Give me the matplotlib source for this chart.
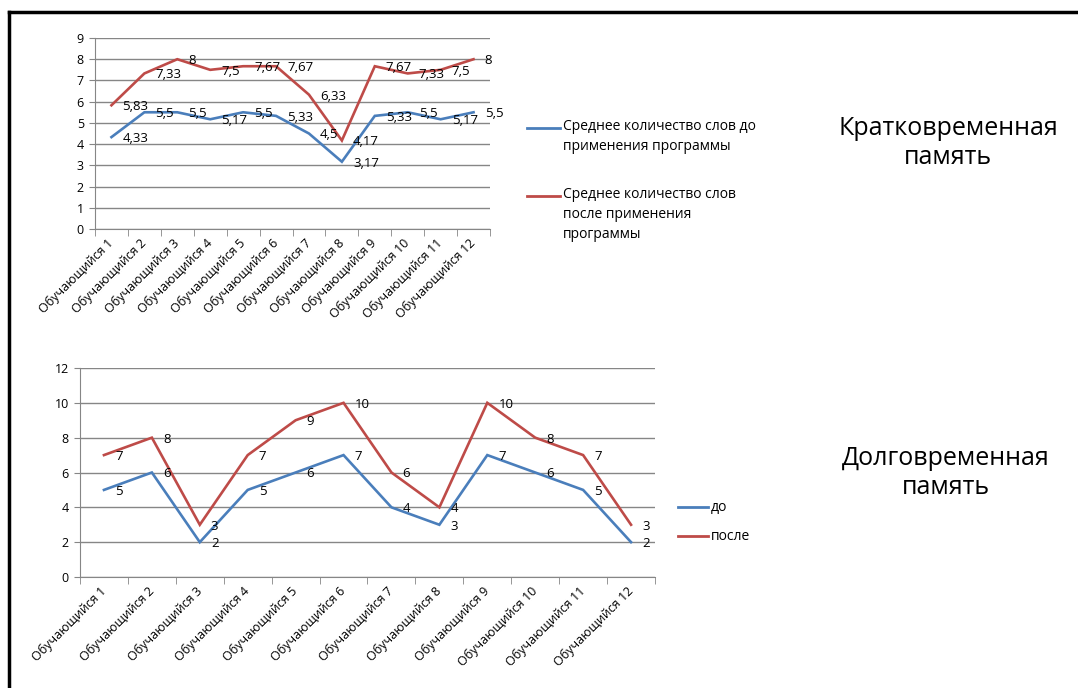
import matplotlib.pyplot as plt
from matplotlib.lines import Line2D

plt.rcParams['font.family'] = ['Open Sans', 'DejaVu Sans']

students = ['Обучающийся 1', 'Обучающийся 2', 'Обучающийся 3', 'Обучающийся 4',
            'Обучающийся 5', 'Обучающийся 6', 'Обучающийся 7', 'Обучающийся 8',
            'Обучающийся 9', 'Обучающийся 10', 'Обучающийся 11', 'Обучающийся 12']

# кратковременная память
short_before = [4.33, 5.5, 5.5, 5.17, 5.5, 5.33, 4.5, 3.17, 5.33, 5.5, 5.17, 5.5]
short_after = [5.83, 7.33, 8, 7.5, 7.67, 7.67, 6.33, 4.17, 7.67, 7.33, 7.5, 8]
short_names = ['Среднее количество слов до\nприменения программы',
               'Среднее количество слов\nпосле применения\nпрограммы']

# долговременная память
long_before = [5, 6, 2, 5, 6, 7, 4, 3, 7, 6, 5, 2]
long_after = [7, 8, 3, 7, 9, 10, 6, 4, 10, 8, 7, 3]
long_names = ['до', 'после']

blue = '#4A7EBB'
red = '#BE4B48'
grey = '#868686'

W, H = 1078, 688
fig = plt.figure(figsize=(W / 100, H / 100), dpi=100)


def px(x, y):
    return x / W, 1 - y / H


def fmt(v):
    s = ('%.2f' % v).rstrip('0').rstrip('.')
    return s.replace('.', ',')


def draw(ax, before, after, ymax, ystep):
    x = list(range(len(students)))
    for vals, c in [(before, blue), (after, red)]:
        ax.plot(x, vals, color=c, lw=1.9, solid_joinstyle='miter')
        for xi, v in zip(x, vals):
            ax.annotate(fmt(v), (xi, v), xytext=(8, -1), textcoords='offset points',
                        ha='left', va='center', fontsize=9.5)
    ax.set_xlim(-0.5, len(students) - 0.5)
    ax.set_ylim(0, ymax)
    ax.set_yticks(range(0, ymax + 1, ystep))
    ax.yaxis.grid(True, color=grey, lw=1)
    ax.set_axisbelow(True)
    ax.set_xticks(x)
    ax.set_xticklabels(students, rotation=45, ha='right', va='center',
                       rotation_mode='anchor', fontsize=9)
    ax.set_xticks([i - 0.5 for i in range(len(students) + 1)], minor=True)
    ax.tick_params(axis='x', which='major', length=0, pad=9)
    ax.tick_params(axis='x', which='minor', length=5, color=grey, direction='out')
    ax.tick_params(axis='y', length=4, color=grey, labelsize=9, pad=4)
    for s in ['top', 'right']:
        ax.spines[s].set_visible(False)
    for s in ['left', 'bottom']:
        ax.spines[s].set_color(grey)


ax1 = fig.add_axes([95 / W, 1 - 229 / H, (490 - 95) / W, (229 - 38) / H])
draw(ax1, short_before, short_after, 9, 1)

ax2 = fig.add_axes([80 / W, 1 - 577 / H, (655 - 80) / W, (577 - 368) / H])
draw(ax2, long_before, long_after, 12, 2)

# legends
for (ly, name, c) in [(128, short_names[0], blue), (196, short_names[1], red)]:
    fig.add_artist(Line2D([527 / W, 560 / W], [1 - ly / H, 1 - ly / H], color=c, lw=2))
    fig.text(*px(563, ly - 9), name, ha='left', va='top', fontsize=10, linespacing=1.45)

for (ly, name, c) in [(507, long_names[0], blue), (536, long_names[1], red)]:
    fig.add_artist(Line2D([678 / W, 708 / W], [1 - ly / H, 1 - ly / H], color=c, lw=2))
    fig.text(*px(711, ly), name, ha='left', va='center', fontsize=10)

fig.text(*px(948, 143), 'Кратковременная\nпамять', ha='center', va='center',
         fontsize=18, linespacing=1.2)
fig.text(*px(946, 473), 'Долговременная\nпамять', ha='center', va='center',
         fontsize=18, linespacing=1.2)

# рамка
fig.add_artist(Line2D([9 / W, 1], [1 - 12 / H, 1 - 12 / H], color='black', lw=2.5))
fig.add_artist(Line2D([9 / W, 9 / W], [0, 1 - 12 / H], color='black', lw=2.5))

fig.savefig('out.png', dpi=100)
